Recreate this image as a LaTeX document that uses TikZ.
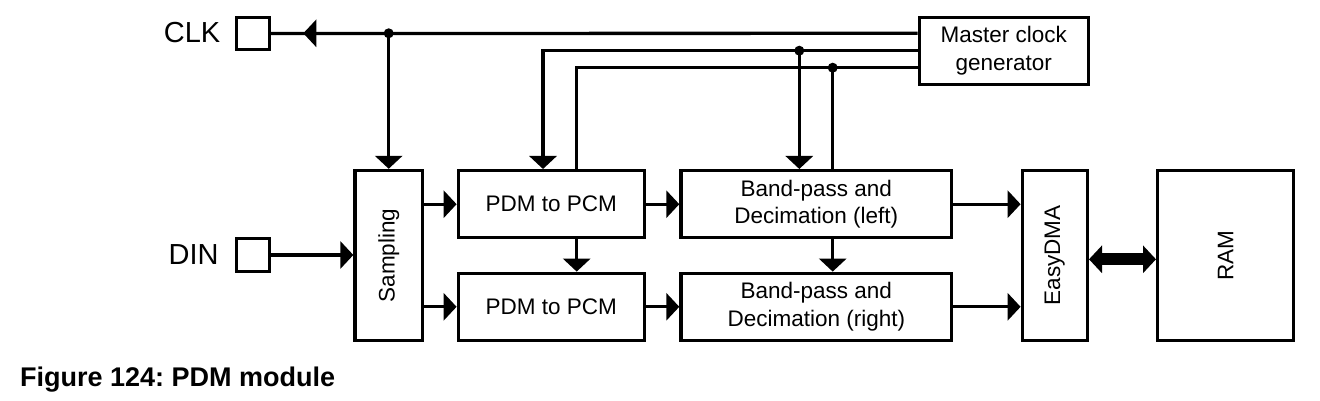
\documentclass[tikz,border=0pt]{standalone}
\usepackage{fontspec}
\setmainfont{Liberation Sans}
\usetikzlibrary{arrows.meta,calc}
\frenchspacing
\begin{document}
\begin{tikzpicture}[x=1pt,y=-1pt,
  box/.style={draw, line width=3.4pt, inner sep=0pt, align=center, font=\fontsize{22.5}{27.3}\selectfont},
  boxtext/.style={inner sep=0pt, font=\fontsize{22.5}{27.3}\selectfont},
  wire/.style={line width=3.3pt},
  arr/.style={wire, -{Triangle[width=27pt 0 0, length=13pt 0 0]}},
  dot/.style={circle, fill, inner sep=0pt, minimum size=10pt},
  lbl/.style={inner sep=0pt, font=\fontsize{29}{34}\selectfont},
]
\useasboundingbox (0,0) rectangle (1320,401);

% boxes
\node[box, minimum width=32.6pt, minimum height=31.6pt] (clk) at (253,33.5) {};
\node[box, minimum width=32.6pt, minimum height=32.6pt] (din) at (253,255) {};
\node[box, minimum width=67.3pt, minimum height=170pt] (samp) at (388.7,255.5) {};
\node[boxtext, rotate=90] (samptxt) at (samp) {Sampling};
\node[box, minimum width=186pt, minimum height=67pt] (pdm1) at (551.3,204.2) {PDM to PCM};
\node[box, minimum width=186pt, minimum height=67pt] (pdm2) at (551.3,306.8) {PDM to PCM};
\node[box, minimum width=270.6pt, minimum height=67pt] (bp1) at (816.3,204.2) {Band-pass and\\Decimation (left)};
\node[box, minimum width=270.6pt, minimum height=67pt] (bp2) at (816.3,306.8) {Band-pass and\\Decimation (right)};
\node[box, minimum width=65pt, minimum height=170pt] (dma) at (1054.8,255.5) {};
\node[boxtext, rotate=90] (dmatxt) at (dma) {EasyDMA};
\node[box, minimum width=135.6pt, minimum height=170pt] (ram) at (1225.5,255.5) {};
\node[boxtext, rotate=90] (ramtxt) at (ram) {RAM};
\node[box, minimum width=169pt, minimum height=67pt] (mcg) at (1003.8,50.8) {Master clock\\generator};

% labels
\node[lbl, anchor=base east] (clkl) at (220.5,42.7) {CLK};
\node[lbl, anchor=base east] (dinl) at (218.8,264.3) {DIN};
\node[anchor=base west, inner sep=0pt, font=\bfseries\fontsize{27}{32}\selectfont] (cap) at (20,386.7) {Figure 124: PDM module};

% helper coordinates
\coordinate (ya) at (0,33.3);
\coordinate (yb) at (0,50.7);
\coordinate (yc) at (0,67.7);
\coordinate (xb) at (543,0);
\coordinate (xc) at (576.7,0);
\coordinate (ydr) at (0,259.3);
\coordinate (tipclk) at (303.3,33.3);
\coordinate (tailclk) at (318,33.3);

% clock distribution
\draw[wire] (mcg.west |- ya) -- (clk.east);
\draw[arr] (tailclk) -- (tipclk);
\node[dot] (d1) at (samp.north |- ya) {};
\draw[arr] (d1.center) -- (samp.north);

\draw[arr] (mcg.west |- yb) -| (xb |- pdm1.north);
\node[dot] (d2) at (799.3,50.7) {};
\draw[arr] (d2.center) -- (d2 |- bp1.north);

\draw[wire] (mcg.west |- yc) -| (xc |- pdm1.north);
\node[dot] (d3) at (832.7,67.7) {};
\draw[wire] (d3.center) -- (d3 |- bp1.north);

% data path
\draw[arr] (din.east) -- (samp.west |- din);
\draw[arr] (samp.east |- pdm1) -- (pdm1.west);
\draw[arr] (samp.east |- pdm2) -- (pdm2.west);
\draw[arr] (pdm1.east) -- (bp1.west);
\draw[arr] (pdm2.east) -- (bp2.west);
\draw[arr] (xc |- pdm1.south) -- (xc |- pdm2.north);
\draw[arr] (d3 |- bp1.south) -- (d3 |- bp2.north);
\draw[arr] (bp1.east) -- (dma.west |- bp1);
\draw[arr] (bp2.east) -- (dma.west |- bp2);
\draw[line width=12pt, {Triangle[width=27pt 0 0, length=13pt 0 0]}-{Triangle[width=27pt 0 0, length=13pt 0 0]}] (dma.east |- ydr) -- (ram.west |- ydr);
\end{tikzpicture}
\end{document}
